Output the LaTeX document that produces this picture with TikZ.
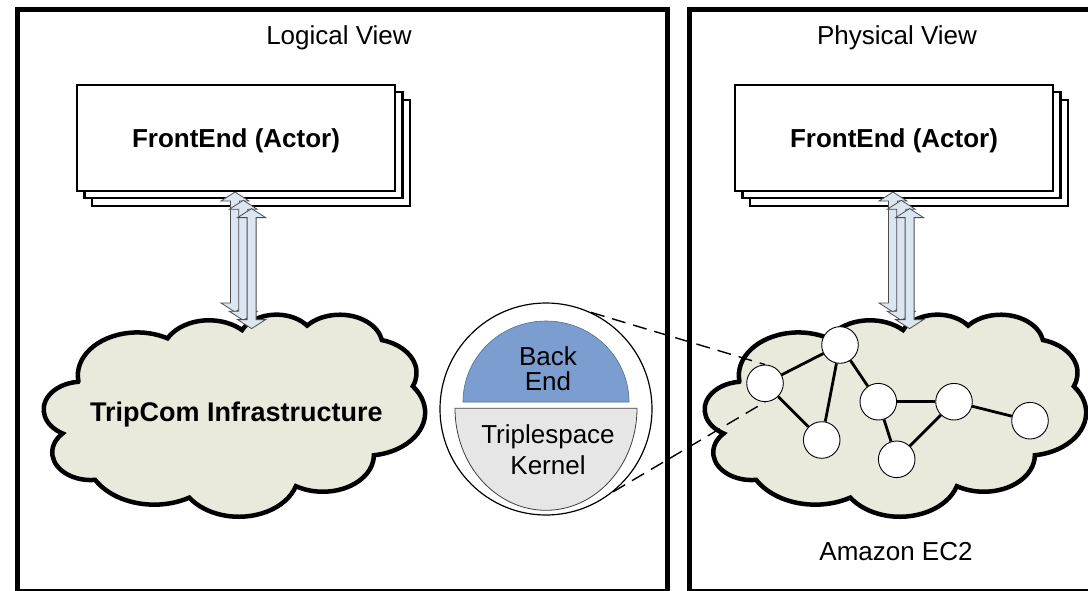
\documentclass[tikz,border=0pt]{standalone}
\usepackage{fontspec}
\setmainfont{Liberation Sans}
\usetikzlibrary{calc}

\definecolor{cloudfill}{HTML}{E9EADC}
\definecolor{arrowfill}{HTML}{DCE6F2}
\definecolor{arrowline}{HTML}{4D4D4D}
\definecolor{backend}{HTML}{7B9DCF}
\definecolor{kernel}{HTML}{E6E6E6}

\pgfdeclarelayer{front}
\pgfsetlayers{main,front}

\tikzset{
  frame/.style={draw=black, line width=5pt},
  actorbox/.style={draw=black, fill=white, line width=2.4pt, minimum width=318pt,
    minimum height=106pt, inner sep=0pt, text height=18.7pt, text depth=0pt},
  cloudshape/.style={draw=black, fill=cloudfill, line width=4.5pt},
  blockarrow/.style={draw=arrowline, fill=arrowfill, line width=0.8pt, line join=miter},
  peer/.style={circle, draw=black, fill=white, line width=0.9pt, minimum size=36.6pt, inner sep=0pt},
  link/.style={line width=2.8pt},
  lensline/.style={line width=1.4pt, dash pattern=on 14pt off 8pt},
  viewlabel/.style={font=\fontsize{26}{30}\selectfont, anchor=base, inner sep=0pt},
  boxfont/.style={font=\bfseries\fontsize{26}{30}\selectfont},
  lenslabel/.style={font=\fontsize{26}{30}\selectfont, anchor=base, inner sep=0pt},
}

% cloud outline (preset cloud geometry, in units of 1/100 of a 43200 grid)
\newcommand\cloudat[4]{%
  \begin{scope}[shift={(#1,#2)}, xscale=#3/432, yscale=#4/432]
    \path[cloudshape] (39.00,143.70)
      arc[start angle=-187.745, delta angle=128.11, x radius=67.53, y radius=91.90]
      arc[start angle=-152.02,  delta angle=106.56, x radius=53.33, y radius=72.67]
      arc[start angle=-153.48,  delta angle=116.15, x radius=43.65, y radius=59.45]
      arc[start angle=-139.70,  delta angle=129.49, x radius=48.57, y radius=65.95]
      arc[start angle=-74.77,   delta angle=97.98,  x radius=53.33, y radius=72.73]
      arc[start angle=-37.53,   delta angle=119.39, x radius=67.75, y radius=92.20]
      arc[start angle=0.46,     delta angle=121.52, x radius=57.85, y radius=78.67]
      arc[start angle=16.84,    delta angle=129.40, x radius=67.52, y radius=92.15]
      arc[start angle=58.98,    delta angle=91.22,  x radius=77.20, y radius=105.43]
      arc[start angle=83.31,    delta angle=139.82, x radius=43.60, y radius=59.18]
      arc[start angle=120.36,   delta angle=143.75, x radius=43.45, y radius=59.45]
      -- cycle;
  \end{scope}}

% vertical double-headed block arrow: centre x, top tip y, bottom tip y
\newcommand\dblarrow[3]{%
  \path[blockarrow] (#1,#2) -- ++(14,9) -- ++(-9.5,0) -- (#1+4.5,#3-9) -- ++(9.5,0)
    -- (#1,#3) -- ++(-14,-9) -- ++(9.5,0) -- (#1-4.5,#2+9) -- ++(-9.5,0) -- cycle;}

\begin{document}
\begin{tikzpicture}[x=1pt, y=-1pt]
  \useasboundingbox (0,0) rectangle (1088,590);
  \clip (0,0) rectangle (1088,590);
  \fill[white] (0,0) rectangle (1088,590);

  % the two view frames
  \draw[frame] (17,9.5) rectangle (667,591);
  \draw[frame] (689.5,9.5) rectangle (1105,591);

  % stacked actor boxes
  \node[actorbox] (feL3) at (251,152.7) {};
  \node[actorbox] (feL2) at (243.5,145.2) {};
  \node[actorbox, boxfont] (feL) at (236,137.7) {FrontEnd (Actor)};
  \node[actorbox] (feR3) at (909,152.7) {};
  \node[actorbox] (feR2) at (901.5,145.2) {};
  \node[actorbox, boxfont] (feR) at (894,137.7) {FrontEnd (Actor)};

  % clouds
  \cloudat{44}{314}{381}{202}
  \cloudat{705}{314}{381}{202}
  \node[font=\bfseries\fontsize{27}{30}\selectfont, anchor=base, inner sep=0pt]
    (tripcom) at (236.5,421.7) {TripCom Infrastructure};

  % links between actors and clouds
  \dblarrow{235}{192}{312}
  \dblarrow{243.3}{200.3}{320.3}
  \dblarrow{251.6}{208.6}{328.6}
  \dblarrow{893}{192}{312}
  \dblarrow{901.3}{200.3}{320.3}
  \dblarrow{909.6}{208.6}{328.6}

  % node internals
  \node[circle, draw=black, fill=white, line width=1.2pt, minimum size=212pt, inner sep=0pt]
    (lens) at (546,409) {};
  \path[fill=backend, draw=backend!70!black, line width=0.6pt]
    (463,402) arc[start angle=180, end angle=360, x radius=83, y radius=81] -- cycle;
  \path[fill=kernel, draw=black!75, line width=0.8pt]
    (455,408.3) arc[start angle=180, end angle=0, x radius=91, y radius=102] -- cycle;
  \node[lenslabel] (back) at (548,365) {Back};
  \node[lenslabel] (end) at (548,390) {End};
  \node[lenslabel] (tsp) at (548,443.5) {Triplespace};
  \node[lenslabel] (kern) at (548,474) {Kernel};

  % peer network: peers sit on the front layer, links below them
  \begin{pgfonlayer}{front}
    \node[peer] (nA) at (765,383.3) {};
    \node[peer] (nB) at (840,345) {};
    \node[peer] (nC) at (821.7,440) {};
    \node[peer] (nD) at (878.3,401.7) {};
    \node[peer] (nE) at (954,401.7) {};
    \node[peer] (nF) at (896.7,459.3) {};
    \node[peer] (nG) at (1030,420.7) {};
  \end{pgfonlayer}

  \draw[lensline] (lens.65) -- (nA.north);
  \draw[lensline] (lens.-51) -- (nA.south);

  \draw[link] (nA) -- (nB);
  \draw[link] (nA) -- (nC);
  \draw[link] (nB) -- (nC);
  \draw[link] (nB) -- (nD);
  \draw[link] (nD) -- (nE);
  \draw[link] (nD) -- (nF);
  \draw[link] (nF) -- (nE);
  \draw[link] (nE) -- (nG);

  % view captions
  \node[viewlabel] (lv) at (339,44) {Logical View};
  \node[viewlabel] (pv) at (897,44) {Physical View};
  \node[viewlabel] (ec2) at (896,560) {Amazon EC2};
\end{tikzpicture}
\end{document}
